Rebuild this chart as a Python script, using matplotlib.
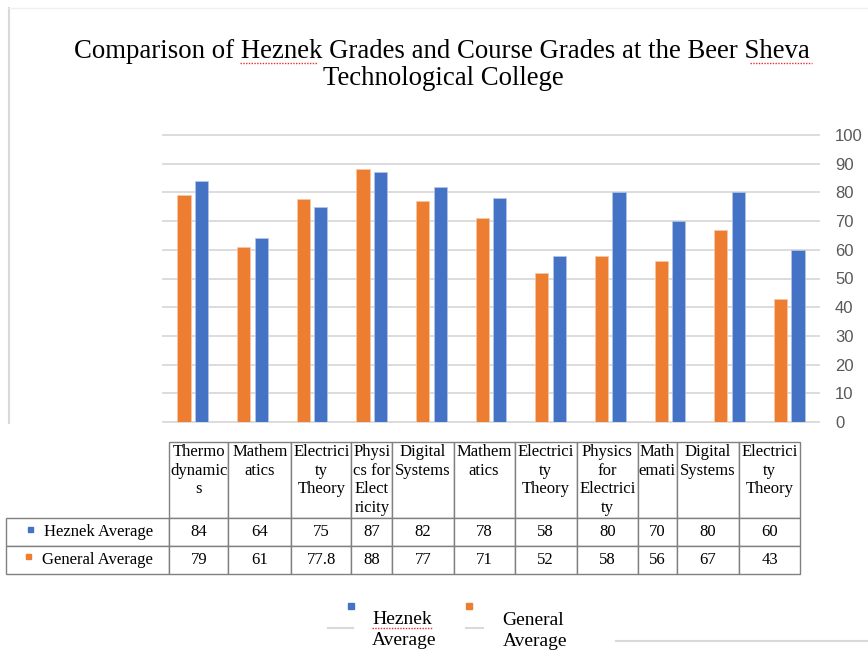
import numpy as np
import matplotlib
matplotlib.use("Agg")
import matplotlib.pyplot as plt
from matplotlib.table import Table
from matplotlib.patches import Rectangle
from matplotlib.lines import Line2D

# data
categories = ["Thermo\ndynamic\ns", "Mathem\natics", "Electrici\nty\nTheory",
              "Physi\ncs for\nElect\nricity", "Digital\nSystems", "Mathem\natics",
              "Electrici\nty\nTheory", "Physics\nfor\nElectrici\nty", "Math\nemati",
              "Digital\nSystems", "Electrici\nty\nTheory"]
heznek = [84, 64, 75, 87, 82, 78, 58, 80, 70, 80, 60]
general = [79, 61, 77.8, 88, 77, 71, 52, 58, 56, 67, 43]
series_names = ["Heznek Average", "General Average"]
yticks = list(range(0, 101, 10))

ORANGE = "#ED7D31"
BLUE = "#4472C4"
GRID = "#d9d9d9"
SERIF = "Liberation Serif"

W, H = 868, 650
def fx(px):
    return px / W
def fy(py):
    return 1 - py / H

fig = plt.figure(figsize=(W / 100, H / 100), dpi=100)

# chart frame remnants
fig.add_artist(Line2D([fx(9), fx(9)], [fy(8), fy(423)], color=GRID, lw=1.5, transform=fig.transFigure))
fig.add_artist(Line2D([fx(9), fx(868)], [fy(8), fy(8)], color="#f0f0f0", lw=1.0, transform=fig.transFigure))

# title
fig.text(fx(442), fy(58), "Comparison of Heznek Grades and Course Grades at the Beer Sheva",
         ha="center", va="baseline", family=SERIF, size=19.3)
fig.text(fx(443), fy(85), "Technological College", ha="center", va="baseline", family=SERIF, size=19.3)
# spell-check squiggles
for x0, x1, y in [(240, 317, 63), (750, 812, 63), (372, 433, 628)]:
    fig.add_artist(Line2D([fx(x0), fx(x1)], [fy(y), fy(y)], color="#e03030", lw=1.0,
                          ls=(0, (1, 1)), transform=fig.transFigure))

# bars
ax = fig.add_axes([fx(163), fy(422), 656 / W, 287 / H])
x = np.arange(len(heznek))
ax.bar(x - 0.147, general, 0.22, color=ORANGE, edgecolor="#f6c9a8", linewidth=0.5)
ax.bar(x + 0.147, heznek, 0.22, color=BLUE, edgecolor="#b4c7e7", linewidth=0.5)
ax.set_xlim(-0.5, len(heznek) - 0.5)
ax.set_ylim(0, 100)
ax.set_xticks([])
ax.set_yticks(yticks)
ax.yaxis.tick_right()
ax.tick_params(axis="y", length=0, pad=11.5, labelsize=12, labelcolor="#595959")
for lab in ax.get_yticklabels():
    lab.set_fontfamily("Liberation Sans")
ax.grid(axis="y", color=GRID, lw=1.3)
ax.set_axisbelow(True)
for line in ax.get_ygridlines():
    line.set_clip_on(False)
for s in ax.spines.values():
    s.set_visible(False)

# data table
col_w = [59, 63, 60, 41, 61, 61, 62, 61, 39, 62, 61]
label_w = 163
tax = fig.add_axes([fx(6), fy(574), 794 / W, 132 / H])
tax.axis("off")
tbl = Table(tax, bbox=[0, 0, 1, 1])
for j, cat in enumerate(categories):
    txt = cat + "\n" * (3 - cat.count("\n"))
    tbl.add_cell(0, j + 1, width=col_w[j], height=76, text=txt, loc="center")
for i, vals in enumerate([heznek, general]):
    tbl.add_cell(i + 1, 0, width=label_w, height=28, text=series_names[i], loc="right")
    for j, v in enumerate(vals):
        tbl.add_cell(i + 1, j + 1, width=col_w[j], height=28, text=f"{v:g}", loc="center")
tbl.auto_set_font_size(False)
tbl.set_fontsize(12)
for (r, c), cell in tbl.get_celld().items():
    cell.set_edgecolor("#808080")
    cell.set_linewidth(1.0)
    cell.get_text().set_fontfamily(SERIF)
tax.add_table(tbl)

# series keys in the table row labels
fig.add_artist(Rectangle((fx(28), fy(532)), 5 / W, 5 / H, color=BLUE, transform=fig.transFigure))
fig.add_artist(Rectangle((fx(26), fy(559)), 5 / W, 5 / H, color=ORANGE, transform=fig.transFigure))

# legend at bottom
fig.add_artist(Rectangle((fx(348), fy(609)), 6 / W, 6 / H, color=BLUE, transform=fig.transFigure))
fig.add_artist(Rectangle((fx(466), fy(609)), 6 / W, 6 / H, color=ORANGE, transform=fig.transFigure))
for xl, word, yb in [(372, "Heznek", 624), (372, "Average", 645),
                     (502, "General", 625), (503, "Average", 646)]:
    fig.text(fx(xl), fy(yb), word, ha="left", va="baseline", family=SERIF, size=14)
for x0, x1, y in [(328, 353, 628), (466, 483, 628), (616, 868, 641)]:
    fig.add_artist(Line2D([fx(x0), fx(x1)], [fy(y), fy(y)], color=GRID, lw=1.5, transform=fig.transFigure))

fig.savefig("out.png", dpi=100)
